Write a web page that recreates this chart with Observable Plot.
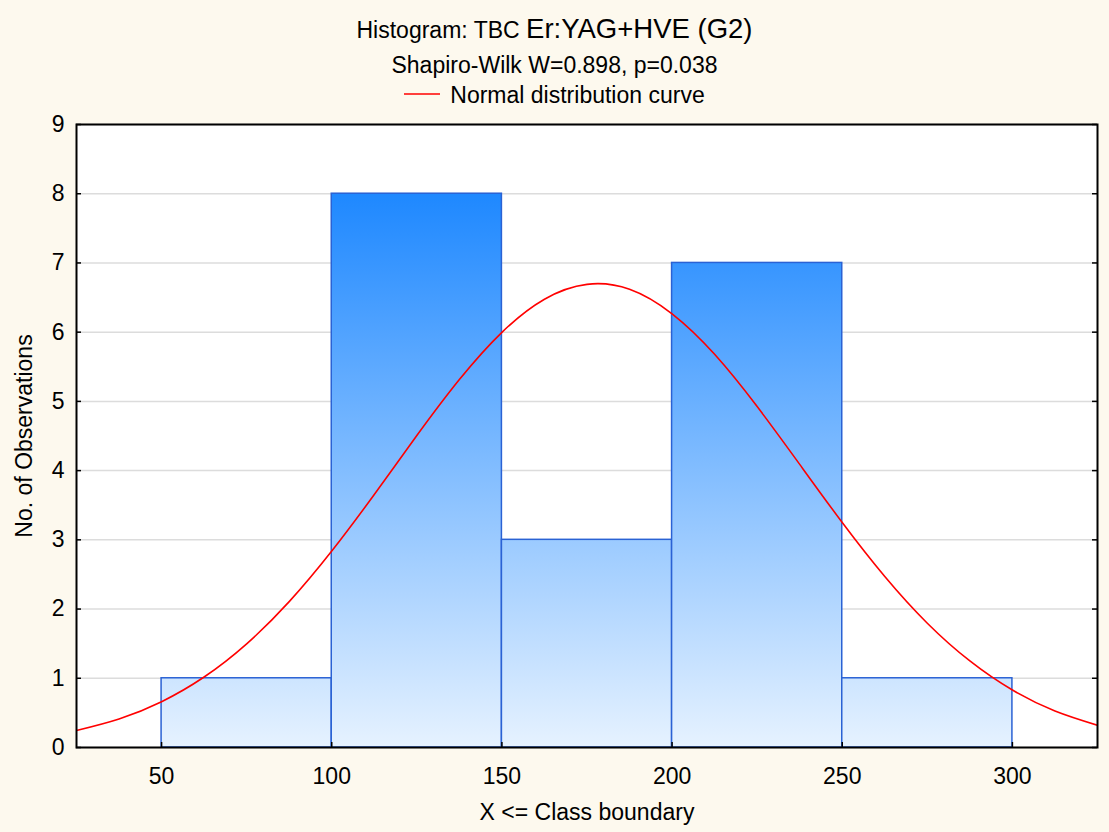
<!DOCTYPE html>
<html>
<head>
<meta charset="utf-8">
<script src="https://cdn.jsdelivr.net/npm/d3@7"></script>
<script src="https://cdn.jsdelivr.net/npm/@observablehq/plot@0.6"></script>
<style>
  html, body { margin: 0; padding: 0; background: #FDF9EE; }
  body { width: 1109px; height: 832px; overflow: hidden; font-family: "Liberation Sans", Arial, sans-serif; color: #000; }
  #header { position: relative; width: 1109px; height: 108px; }
  .line { position: absolute; left: 0; width: 1109px; text-align: center; white-space: nowrap; font-size: 23px; line-height: 23px; }
  #title { top: 17px; }
  #title .big { font-size: 27.5px; }
  #subtitle { top: 54px; }
  #legend { top: 84px; }
  #legend svg { vertical-align: middle; margin-right: 10px; position: relative; top: -3px; }
  #chart svg { display: block; }
</style>
</head>
<body>
<div id="header">
  <div class="line" id="title">Histogram: TBC <span class="big">Er:YAG+HVE (G2)</span></div>
  <div class="line" id="subtitle">Shapiro-Wilk W=0.898, p=0.038</div>
  <div class="line" id="legend"><svg width="36" height="6"><line x1="0" x2="36" y1="3" y2="3" stroke="#FF0000" stroke-width="1.6"/></svg>Normal distribution curve</div>
</div>
<div id="chart"></div>
<script>
// Histogram bins (class boundaries) and counts
const binStart = [50, 100, 150, 200, 250];
const binEnd   = [100, 150, 200, 250, 300];
const counts   = [1, 8, 3, 7, 1];

// Normal distribution curve
const curveX = [25, 37.5, 50, 62.5, 75, 87.5, 100, 112.5, 125, 137.5, 150, 162.5, 175, 187.5, 200, 212.5, 225, 237.5, 250, 262.5, 275, 287.5, 300, 312.5, 325];
const curveY = [0.246, 0.412, 0.662, 1.018, 1.497, 2.107, 2.838, 3.655, 4.506, 5.315, 5.998, 6.476, 6.691, 6.620, 6.265, 5.680, 4.925, 4.090, 3.250, 2.470, 1.795, 1.250, 0.830, 0.528, 0.322];

// Axis ticks
const xTicks = [50, 100, 150, 200, 250, 300];
const yTicks = [0, 1, 2, 3, 4, 5, 6, 7, 8, 9];

const xLabel = "X <= Class boundary";
const yLabel = "No. of Observations";

const bins = binStart.map((s, i) => ({x1: s, x2: binEnd[i], count: counts[i]}));
const curve = curveX.map((x, i) => ({x, y: curveY[i]}));

const W = 1109, H = 724;
const mL = 76, mR = 12, mT = 16, mB = 85;
const innerW = W - mL - mR, innerH = H - mT - mB;

const chart = Plot.plot({
  width: W,
  height: H,
  marginLeft: mL,
  marginRight: mR,
  marginTop: mT,
  marginBottom: mB,
  style: {background: "transparent", fontFamily: "'Liberation Sans', Arial, sans-serif", color: "#000"},
  x: {domain: [25, 325]},
  y: {domain: [0, 9]},
  marks: [
    Plot.frame({fill: "white", stroke: null}),
    Plot.gridY(yTicks, {stroke: "#DCDCDC", strokeOpacity: 1, strokeWidth: 1.5}),
    Plot.rectY(bins, {x1: "x1", x2: "x2", y: "count", fill: "url(#barGrad)", stroke: "#2A62D4", strokeWidth: 1.5}),
    Plot.line(curve, {x: "x", y: "y", stroke: "#FF0000", strokeWidth: 1.6, curve: "natural", clip: true}),
    Plot.tickY(yTicks, {y: d => d, stroke: "#000", strokeWidth: 1.5, insetRight: innerW - 5}),
    Plot.tickY(yTicks, {y: d => d, stroke: "#000", strokeWidth: 1.5, insetLeft: innerW - 5}),
    Plot.tickX(xTicks, {x: d => d, stroke: "#000", strokeWidth: 1.5, insetTop: innerH - 5}),
    Plot.frame({stroke: "#000", strokeWidth: 2}),
    Plot.axisY(yTicks, {tickSize: 0, tickPadding: 12, fontSize: 23, label: null, tickFormat: d3.format("d")}),
    Plot.axisX(xTicks, {tickSize: 0, tickPadding: 20, fontSize: 23, label: null, tickFormat: d3.format("d")}),
    Plot.text([xLabel], {frameAnchor: "bottom", dy: 72, fontSize: 23, fill: "#000", text: d => d}),
    Plot.text([yLabel], {frameAnchor: "left", textAnchor: "middle", dx: -52, rotate: -90, fontSize: 23, fill: "#000", text: d => d})
  ]
});

const yScale = chart.scale("y");
const grad = d3.select(chart).insert("defs", ":first-child")
  .append("linearGradient")
  .attr("id", "barGrad")
  .attr("gradientUnits", "userSpaceOnUse")
  .attr("x1", 0).attr("x2", 0)
  .attr("y1", yScale.apply(8))
  .attr("y2", yScale.apply(0));
grad.append("stop").attr("offset", "0%").attr("stop-color", "#1E88FF");
grad.append("stop").attr("offset", "100%").attr("stop-color", "#E6F2FF");

document.getElementById("chart").appendChild(chart);
</script>
</body>
</html>
